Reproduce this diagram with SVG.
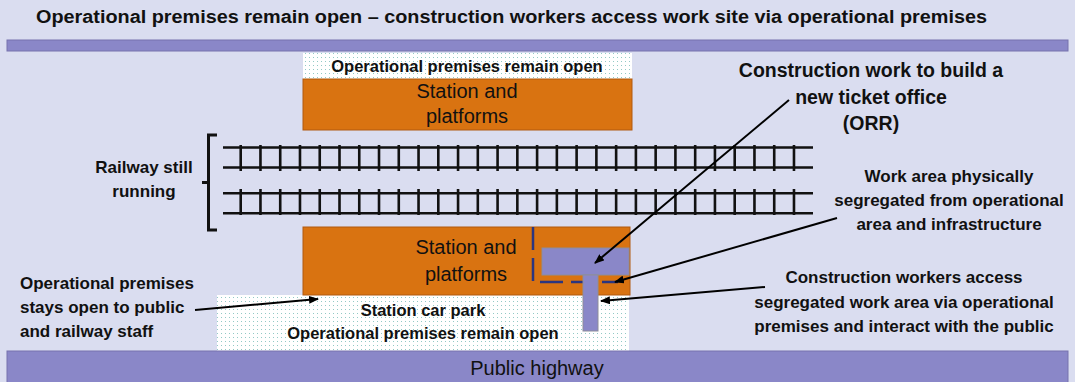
<svg xmlns="http://www.w3.org/2000/svg" width="1075" height="382" viewBox="0 0 1075 382">
<defs>
<pattern id="dots" width="4" height="4" patternUnits="userSpaceOnUse">
<rect width="4" height="4" fill="#ffffff"/>
<rect x="1" y="1" width="1" height="1" fill="#93c9c6"/>
</pattern>
<marker id="ah" markerWidth="10" markerHeight="8" refX="9" refY="4" orient="auto" markerUnits="userSpaceOnUse">
<path d="M0,0 L10,4 L0,8 z" fill="#000"/>
</marker>
<style>
.t{font-family:"Liberation Sans",Arial,sans-serif;fill:#111;}
.b{font-weight:bold;}
.bar{fill:#8A87C8;stroke:#7673ad;stroke-width:1;}
.orange{fill:#D97311;stroke:#B05A10;stroke-width:1;}
.dotted{fill:url(#dots);}
.rail{stroke:#111;stroke-width:2.5;fill:none;}
.ties{stroke:#111;stroke-width:26;stroke-dasharray:2.6 17.16;fill:none;}
.arrow{stroke:#000;stroke-width:2;fill:none;marker-end:url(#ah);}
.tee{fill:#8A87C8;stroke:#8d8d9a;stroke-width:1;}
</style>
</defs>
<rect width="1075" height="382" fill="#DADDF0"/>

<g id="title">
<text class="t b" x="36" y="23" font-size="18" textLength="951" lengthAdjust="spacingAndGlyphs">Operational premises remain open – construction workers access work site via operational premises</text>
</g>

<g id="top-bar"><rect class="bar" x="7" y="40" width="1061" height="11"/></g>

<g id="upper-premises">
<rect class="dotted" x="303" y="53" width="329" height="26"/>
<text class="t b" x="467" y="72" font-size="16.5" text-anchor="middle">Operational premises remain open</text>
</g>

<g id="upper-station">
<rect class="orange" x="303" y="79" width="329" height="51"/>
<text class="t" x="467" y="98" font-size="20" text-anchor="middle">Station and</text>
<text class="t" x="467" y="123" font-size="20" text-anchor="middle">platforms</text>
</g>

<g id="railway">
<path class="rail" d="M223,147.5 H813 M223,167.5 H813 M223,193.3 H813 M223,213.3 H813"/>
<path class="ties" d="M239.4,158 H796 M239.4,202 H796"/>
<path d="M217,135 H208.5 V182.5 H202 M208.5,182.5 V230 H217" fill="none" stroke="#111" stroke-width="3"/>
</g>

<g id="railway-label">
<text class="t b" x="144" y="173" font-size="17" text-anchor="middle">Railway still</text>
<text class="t b" x="144" y="197" font-size="17" text-anchor="middle">running</text>
</g>

<g id="lower-premises">
<rect class="dotted" x="217" y="295" width="412" height="56"/>
<text class="t b" x="423" y="316" font-size="16.5" text-anchor="middle">Station car park</text>
<text class="t b" x="423" y="339" font-size="16.5" text-anchor="middle">Operational premises remain open</text>
</g>

<g id="lower-station">
<rect class="orange" x="303" y="227" width="327" height="68"/>
<text class="t" x="466" y="254" font-size="20" text-anchor="middle">Station and</text>
<text class="t" x="466" y="281" font-size="20" text-anchor="middle">platforms</text>
</g>

<g id="work-area">
<path d="M533,227 V282 H618" fill="none" stroke="#2B3580" stroke-width="2.5" stroke-dasharray="23 8"/>
</g>

<g id="ticket-office">
<rect class="tee" x="542" y="248" width="87" height="27"/>
<rect class="tee" x="583" y="275" width="15" height="56"/>
</g>

<g id="public-highway">
<rect class="bar" x="7" y="351" width="1061" height="35"/>
<text class="t" x="537" y="375" font-size="20" text-anchor="middle">Public highway</text>
</g>

<g id="label-ticket-office">
<text class="t b" x="871" y="77" font-size="19.5" text-anchor="middle">Construction work to build a</text>
<text class="t b" x="871" y="104" font-size="19.5" text-anchor="middle">new ticket office</text>
<text class="t b" x="871" y="130" font-size="19.5" text-anchor="middle">(ORR)</text>
</g>

<g id="label-work-area">
<text class="t b" x="949" y="182" font-size="17" text-anchor="middle">Work area physically</text>
<text class="t b" x="949" y="206" font-size="17" text-anchor="middle">segregated from operational</text>
<text class="t b" x="949" y="230" font-size="17" text-anchor="middle">area and infrastructure</text>
</g>

<g id="label-workers">
<text class="t b" x="904" y="283" font-size="17" text-anchor="middle">Construction workers access</text>
<text class="t b" x="904" y="308" font-size="17" text-anchor="middle">segregated work area via operational</text>
<text class="t b" x="904" y="332" font-size="17" text-anchor="middle">premises and interact with the public</text>
</g>

<g id="label-premises">
<text class="t b" x="20" y="289" font-size="17">Operational premises</text>
<text class="t b" x="20" y="313" font-size="17">stays open to public</text>
<text class="t b" x="20" y="337" font-size="17">and railway staff</text>
</g>

<g id="connectors">
<line class="arrow" x1="789" y1="100" x2="595" y2="263"/>
<line class="arrow" x1="837" y1="218" x2="615" y2="282"/>
<line class="arrow" x1="765" y1="287" x2="601" y2="301"/>
<line class="arrow" x1="195" y1="310" x2="318" y2="299"/>
</g>
</svg>
